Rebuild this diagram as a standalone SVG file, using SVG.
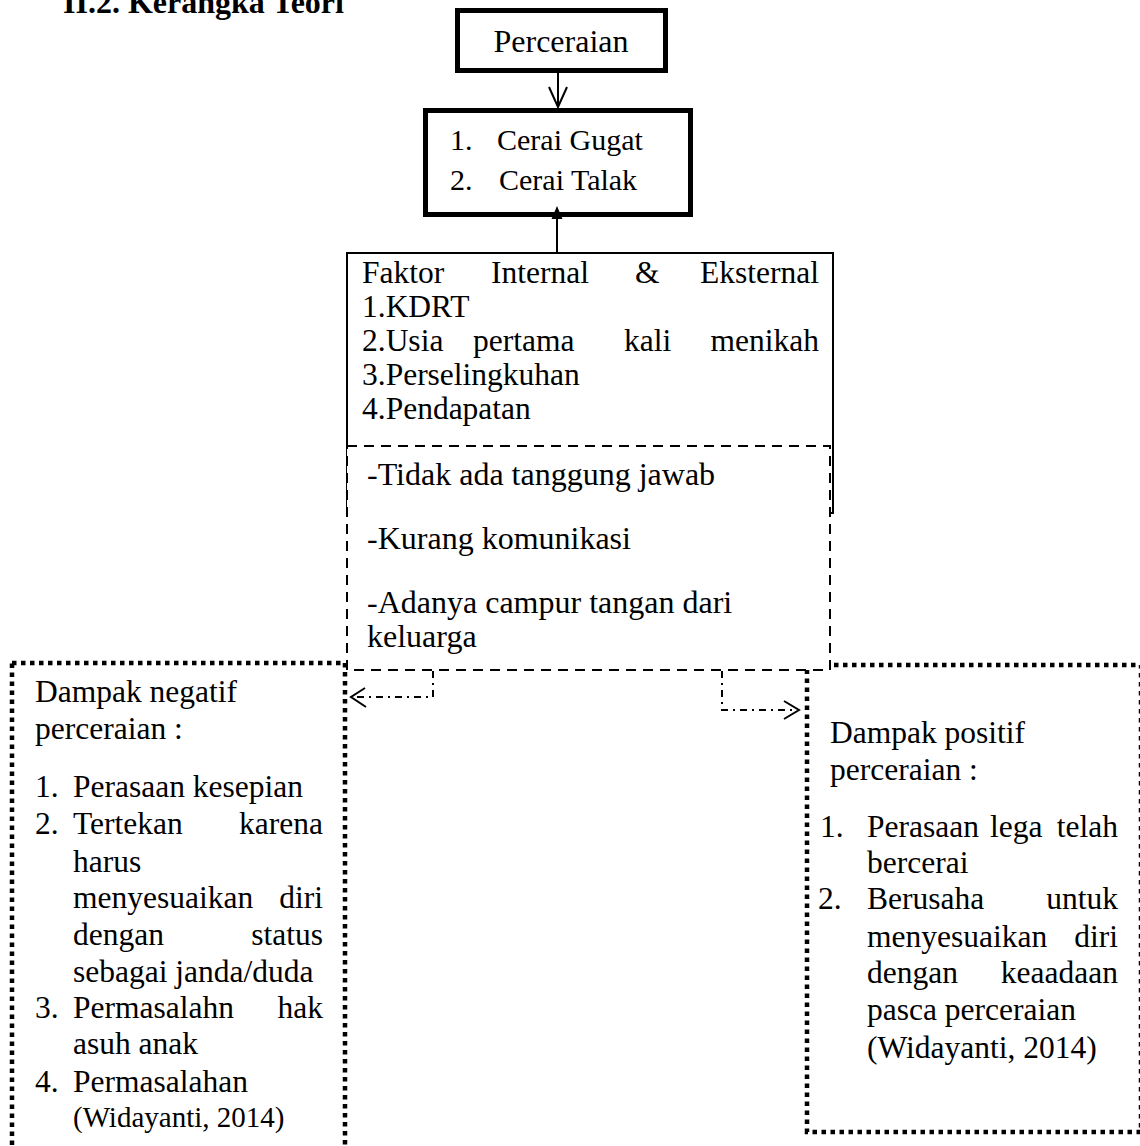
<svg xmlns="http://www.w3.org/2000/svg" width="1140" height="1146" viewBox="0 0 1140 1146">
<style>
  text { font-family: "Liberation Serif", "Times New Roman", serif; fill: #000; }
  .t { font-size: 31.5px; }
  .s { font-size: 29px; }
  .title { font-size: 32px; font-weight: bold; }
  .thick { fill: #fff; stroke: #000; stroke-width: 5; }
  .solid { fill: #fff; stroke: #000; stroke-width: 2; }
  .dashed { fill: #fff; stroke: #000; stroke-width: 2; stroke-dasharray: 10 7; }
  .dotted { fill: #fff; stroke: #000; stroke-width: 4.5; stroke-dasharray: 4.5 4.5; }
  .conn { fill: none; stroke: #000; stroke-width: 2; }
  .dashdot { fill: none; stroke: #000; stroke-width: 2; stroke-dasharray: 7 5 2 5; }
</style>
<rect width="1140" height="1146" fill="#fff"/>

<text class="title" x="63" y="13">II.2. Kerangka Teori</text>

<g id="dampak-negatif">
  <rect class="dotted" x="12" y="663" width="333" height="520"/>
  <text class="t" x="35" y="702">Dampak negatif</text>
  <text class="t" x="35" y="739">perceraian :</text>
  <text class="t" x="35" y="797">1.</text><text class="t" x="73" y="797">Perasaan kesepian</text>
  <text class="t" x="35" y="834">2.</text><text class="t" x="73" y="834">Tertekan</text><text class="t" x="323" y="834" text-anchor="end">karena</text>
  <text class="t" x="73" y="872">harus</text>
  <text class="t" x="73" y="908">menyesuaikan</text><text class="t" x="323" y="908" text-anchor="end">diri</text>
  <text class="t" x="73" y="945">dengan</text><text class="t" x="323" y="945" text-anchor="end">status</text>
  <text class="t" x="73" y="982">sebagai janda/duda</text>
  <text class="t" x="35" y="1018">3.</text><text class="t" x="73" y="1018">Permasalahn</text><text class="t" x="323" y="1018" text-anchor="end">hak</text>
  <text class="t" x="73" y="1054">asuh anak</text>
  <text class="t" x="35" y="1092">4.</text><text class="t" x="73" y="1092">Permasalahan</text>
  <text class="s" x="73" y="1127">(Widayanti, 2014)</text>
</g>

<g id="dampak-positif">
  <rect class="dotted" x="807" y="665" width="334" height="467"/>
  <text class="t" x="830" y="743">Dampak positif</text>
  <text class="t" x="830" y="780">perceraian :</text>
  <text class="t" x="820" y="837">1.</text><text class="t" x="867" y="837">Perasaan</text><text class="t" x="990" y="837">lega</text><text class="t" x="1118" y="837" text-anchor="end">telah</text>
  <text class="t" x="867" y="873">bercerai</text>
  <text class="t" x="818" y="909">2.</text><text class="t" x="867" y="909">Berusaha</text><text class="t" x="1118" y="909" text-anchor="end">untuk</text>
  <text class="t" x="867" y="947">menyesuaikan</text><text class="t" x="1118" y="947" text-anchor="end">diri</text>
  <text class="t" x="867" y="983">dengan</text><text class="t" x="1118" y="983" text-anchor="end">keaadaan</text>
  <text class="t" x="867" y="1020">pasca perceraian</text>
  <text class="t" x="867" y="1058">(Widayanti, 2014)</text>
</g>

<g id="perceraian">
  <rect class="thick" x="457.5" y="10.5" width="208" height="60"/>
  <text class="t" x="561" y="52" text-anchor="middle" style="font-size:32px">Perceraian</text>
</g>

<g id="jenis-cerai">
  <rect class="thick" x="425.5" y="110.5" width="265" height="104"/>
  <text class="t" x="450" y="150" style="font-size:30px">1.</text><text class="t" x="497" y="150" style="font-size:30px">Cerai Gugat</text>
  <text class="t" x="450" y="190" style="font-size:30px">2.</text><text class="t" x="499" y="190" style="font-size:30px">Cerai Talak</text>
</g>

<g id="faktor">
  <rect class="solid" x="347" y="253" width="486" height="260"/>
  <text class="t" x="362" y="283">Faktor</text><text class="t" x="491" y="283">Internal</text><text class="t" x="635" y="283">&amp;</text><text class="t" x="819" y="283" text-anchor="end">Eksternal</text>
  <text class="t" x="362" y="317">1.KDRT</text>
  <text class="t" x="362" y="351">2.Usia</text><text class="t" x="473" y="351">pertama</text><text class="t" x="624" y="351">kali</text><text class="t" x="819" y="351" text-anchor="end">menikah</text>
  <text class="t" x="362" y="385">3.Perselingkuhan</text>
  <text class="t" x="362" y="419">4.Pendapatan</text>
</g>

<g id="faktor-lain">
  <rect class="dashed" x="347" y="446" width="483" height="224"/>
  <text class="t" x="367" y="485" style="font-size:32px">-Tidak ada tanggung jawab</text>
  <text class="t" x="367" y="549" style="font-size:32px">-Kurang komunikasi</text>
  <text class="t" x="367" y="613" style="font-size:32px">-Adanya campur tangan dari</text>
  <text class="t" x="367" y="647" style="font-size:32px">keluarga</text>
</g>

<g id="connectors">
  <line class="conn" x1="558" y1="73" x2="558" y2="107"/>
  <polyline class="conn" points="549,87 558,107 567,87"/>
  <line class="conn" x1="557" y1="252" x2="557" y2="217"/>
  <polygon points="551.5,219 562.5,219 557,206" fill="#000"/>
  <polyline class="dashdot" points="433,671 433,697 353,697"/>
  <polyline class="conn" points="365,688 351,697 366,707"/>
  <polyline class="dashdot" points="722,671 722,710 797,710"/>
  <polyline class="conn" points="784,701 799,710 784,719"/>
</g>
</svg>
